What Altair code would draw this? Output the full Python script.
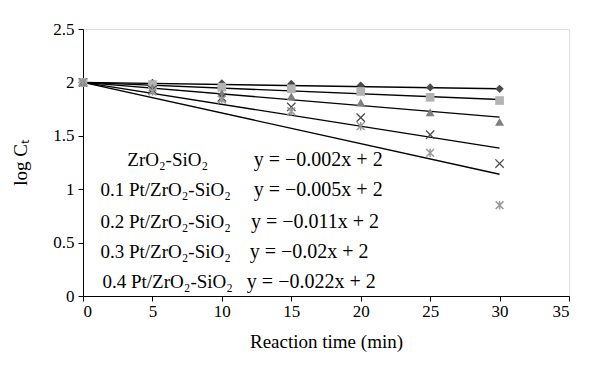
import altair as alt
import pandas as pd

# ---- data ----
times = [0, 5, 10, 15, 20, 25, 30]
series_names = ["ZrO2-SiO2", "0.1 Pt", "0.2 Pt", "0.3 Pt", "0.4 Pt"]
y_zr = [2.0, 1.995, 1.99, 1.985, 1.97, 1.953, 1.94]
y_01 = [2.0, 1.98, 1.955, 1.94, 1.915, 1.86, 1.83]
y_02 = [2.0, 1.95, 1.90, 1.87, 1.81, 1.72, 1.63]
y_03 = [2.0, 1.93, 1.86, 1.77, 1.67, 1.51, 1.24]
y_04 = [2.0, 1.915, 1.84, 1.73, 1.59, 1.34, 0.85]
trend_start = [2.0, 2.0, 2.0, 2.0, 2.0]
trend_end = [1.94, 1.84, 1.675, 1.385, 1.14]
trend_x = [0, 30]

label_names = ["ZrO\u2082-SiO\u2082", "0.1 Pt/ZrO\u2082-SiO\u2082", "0.2 Pt/ZrO\u2082-SiO\u2082",
               "0.3 Pt/ZrO\u2082-SiO\u2082", "0.4 Pt/ZrO\u2082-SiO\u2082"]
label_eqs = ["y = \u22120.002x + 2", "y = \u22120.005x + 2", "y = \u22120.011x + 2",
             "y = \u22120.02x + 2", "y = \u22120.022x + 2"]

x_ticks = [0, 5, 10, 15, 20, 25, 30, 35]
y_ticks = [0, 0.5, 1, 1.5, 2, 2.5]

# ---- styling (not data) ----
styles = [
    dict(shape="diamond", color="#4a4a4a", filled=True, size=70, sw=0),
    dict(shape="square", color="#b3b3b3", filled=True, size=75, sw=0),
    dict(shape="triangle-up", color="#7f7f7f", filled=True, size=80, sw=0),
    dict(shape="M-1,-1L1,1M-1,1L1,-1", color="#4a4a4a", filled=False, size=70, sw=1.3),
    dict(shape="M-1,-1L1,1M-1,1L1,-1M0,-1.1L0,1.1", color="#9a9a9a", filled=False, size=60, sw=1.5),
]
label_x = [6.1, 5.95, 5.95, 5.95, 6.1]
eq_x = [12.3, 12.3, 12.1, 12.0, 11.8]
row_y = [1.275, 0.99, 0.69, 0.41, 0.13]

FONT = "Liberation Serif"

xscale = alt.Scale(domain=[0, 35], nice=False, zero=False)
yscale = alt.Scale(domain=[0, 2.5], nice=False)

xaxis = alt.Axis(values=x_ticks, title="Reaction time (min)", grid=False, format="~g",
                 labelFont=FONT, labelFontSize=17, labelColor="black", labelPadding=2,
                 titleFont=FONT, titleFontSize=19, titleFontWeight="normal", titleColor="black",
                 titlePadding=13, domainColor="black", tickColor="black", tickSize=5)
yaxis = alt.Axis(values=y_ticks, title="log C\u209c", grid=False, format="~g",
                 labelFont=FONT, labelFontSize=17, labelColor="black", labelPadding=4,
                 titleFont=FONT, titleFontSize=19, titleFontWeight="normal", titleColor="black",
                 titlePadding=22, domainColor="black", tickColor="black", tickSize=5)

all_y = [y_zr, y_01, y_02, y_03, y_04]

layers = []
rows = []
for i, name in enumerate(series_names):
    rows.append(dict(series=name, x=trend_x[0], y=trend_start[i]))
    rows.append(dict(series=name, x=trend_x[1], y=trend_end[i]))
trend_df = pd.DataFrame(rows)
layers.append(
    alt.Chart(trend_df).mark_line(color="black", strokeWidth=1.4).encode(
        x=alt.X("x:Q", scale=xscale, axis=xaxis),
        y=alt.Y("y:Q", scale=yscale, axis=yaxis),
        detail="series:N",
    )
)
for i, name in enumerate(series_names):
    df = pd.DataFrame({"x": times, "y": all_y[i]})
    st = styles[i]
    kw = dict(shape=st["shape"], color=st["color"], filled=st["filled"], size=st["size"], opacity=1)
    if not st["filled"]:
        kw["strokeWidth"] = st["sw"]
    layers.append(
        alt.Chart(df).mark_point(**kw).encode(
            x=alt.X("x:Q", scale=xscale),
            y=alt.Y("y:Q", scale=yscale),
        )
    )
lab_df = pd.DataFrame({"x": label_x, "y": row_y, "t": label_names})
eq_df = pd.DataFrame({"x": eq_x, "y": row_y, "t": label_eqs})
layers.append(
    alt.Chart(lab_df).mark_text(font=FONT, fontSize=19, color="black", align="center", baseline="middle").encode(
        x=alt.X("x:Q", scale=xscale), y=alt.Y("y:Q", scale=yscale), text="t:N")
)
layers.append(
    alt.Chart(eq_df).mark_text(font=FONT, fontSize=20, color="black", align="left", baseline="middle").encode(
        x=alt.X("x:Q", scale=xscale), y=alt.Y("y:Q", scale=yscale), text="t:N")
)

chart = alt.layer(*layers).properties(
    width=486, height=267,
    autosize=alt.AutoSizeParams(type="none"),
    padding={"left": 75, "top": 21, "right": 23, "bottom": 74},
).configure_view(stroke=None).configure(background="white")

chart.save("out.html", embed_options={"renderer": "svg", "actions": False})
